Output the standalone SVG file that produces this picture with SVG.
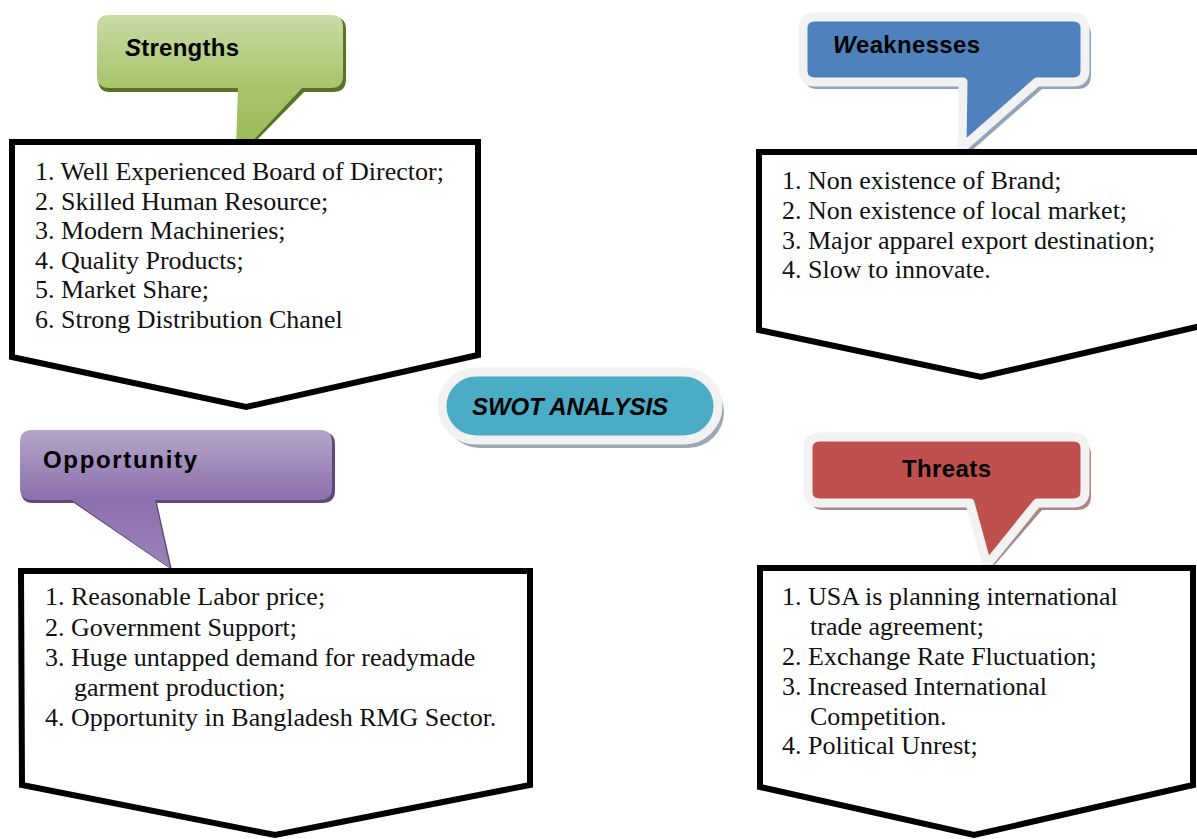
<svg xmlns="http://www.w3.org/2000/svg" width="1197" height="839" viewBox="0 0 1197 839">
<defs>
<linearGradient id="gGreen" x1="0" y1="0" x2="0" y2="1">
<stop offset="0" stop-color="#c9dca6"/>
<stop offset="0.55" stop-color="#a8c46a"/>
<stop offset="1" stop-color="#9bbb59"/>
</linearGradient>
<linearGradient id="gPurple" x1="0" y1="0" x2="0" y2="1">
<stop offset="0" stop-color="#b5a5c9"/>
<stop offset="0.5" stop-color="#8c70ad"/>
<stop offset="1" stop-color="#9a83b9"/>
</linearGradient>
<style>
.box{fill:#fff;stroke:#000;stroke-width:6;stroke-linejoin:miter}
.lst{font-family:"Liberation Serif","Times New Roman",serif;font-size:26px;fill:#111}
.hd{font-family:"Liberation Sans",Arial,sans-serif;font-size:24px;font-weight:bold;fill:#000}
.rim{stroke:#f2f2f2;stroke-width:9;stroke-linejoin:round}
</style>
</defs>

<g id="strengths">
<path d="M110,17 H333 Q346,17 346,29 V79 Q346,92 333,92 H304 L250,147 L238,147 L240,92 H110 Q98,92 98,79 V29 Q98,17 110,17 Z" fill="#5a7228"/>
<path d="M109,15 H331 Q343,15 343,27 V76 Q343,88 331,88 H302 L248,146 L236,146 L238,88 H109 Q97,88 97,76 V27 Q97,15 109,15 Z" fill="url(#gGreen)"/>
<text class="hd" x="125" y="56" textLength="114"><tspan font-style="italic">S</tspan>trengths</text>
<polygon class="box" points="12,142 478,142 478,355 246,407 12,357"/>
<text class="lst" x="35" y="180">1. Well Experienced Board of Director;</text>
<text class="lst" x="35" y="209.5">2. Skilled Human Resource;</text>
<text class="lst" x="35" y="239">3. Modern Machineries;</text>
<text class="lst" x="35" y="268.5">4. Quality Products;</text>
<text class="lst" x="35" y="298">5. Market Share;</text>
<text class="lst" x="35" y="327.5">6. Strong Distribution Chanel</text>
</g>

<g id="weaknesses">
<path d="M818,21 H1077 Q1091,21 1091,35 V75 Q1091,89 1077,89 H1042 L970,152 L966,152 L968,89 H818 Q804,89 804,75 V35 Q804,21 818,21 Z" fill="#93a3b7"/>
<path class="rim" d="M815,17 H1073 Q1085,17 1085,29 V70 Q1085,82 1073,82 H1037 L962,148 L963,82 H815 Q803,82 803,70 V29 Q803,17 815,17 Z" fill="#4f81bd"/>
<text class="hd" x="833" y="53" textLength="147"><tspan font-style="italic">W</tspan>eaknesses</text>
<polygon class="box" points="759,152 1205,152 1205,325 981,377 759,330"/>
<text class="lst" x="782" y="189">1. Non existence of Brand;</text>
<text class="lst" x="782" y="219">2. Non existence of local market;</text>
<text class="lst" x="782" y="248.5">3. Major apparel export destination;</text>
<text class="lst" x="782" y="278">4. Slow to innovate.</text>
</g>

<g id="opportunity">
<path d="M33,432 H322 Q335,432 335,444 V491 Q335,503 322,503 H157 L172,570 L74,503 H33 Q21,503 21,491 V444 Q21,432 33,432 Z" fill="#5f497a"/>
<path d="M32,430 H320 Q332,430 332,442 V488 Q332,500 320,500 H155 L170,568 L72,500 H32 Q20,500 20,488 V442 Q20,430 32,430 Z" fill="url(#gPurple)"/>
<text class="hd" x="43" y="468" font-size="25" textLength="154">Opportunity</text>
<polygon class="box" points="21,571 530,571 530,785 275,835 22,785"/>
<text class="lst" x="45" y="605">1. Reasonable Labor price;</text>
<text class="lst" x="45" y="636">2. Government Support;</text>
<text class="lst" x="45" y="666">3. Huge untapped demand for readymade</text>
<text class="lst" x="74" y="696">garment production;</text>
<text class="lst" x="45" y="726">4. Opportunity in Bangladesh RMG Sector.</text>
</g>

<g id="threats">
<path d="M823,441 H1077 Q1091,441 1091,455 V496 Q1091,510 1077,510 H1042 L992,568 L976,510 H823 Q810,510 810,496 V455 Q810,441 823,441 Z" fill="#a98886"/>
<path class="rim" d="M820,437 H1073 Q1085,437 1085,449 V491 Q1085,503 1073,503 H1037 L987,565 L970,503 H820 Q808,503 808,491 V449 Q808,437 820,437 Z" fill="#c0504d"/>
<text class="hd" x="902" y="477" textLength="89">Threats</text>
<polygon class="box" points="760,568 1193,568 1193,785 974,835 760,787"/>
<text class="lst" x="782" y="605">1. USA is planning international</text>
<text class="lst" x="810" y="635">trade agreement;</text>
<text class="lst" x="782" y="665">2. Exchange Rate Fluctuation;</text>
<text class="lst" x="782" y="695">3. Increased International</text>
<text class="lst" x="810" y="725">Competition.</text>
<text class="lst" x="782" y="754">4. Political Unrest;</text>
</g>

<g id="swot">
<rect x="444" y="376" width="280" height="72" rx="36" fill="#9aa8b2"/>
<rect class="rim" x="442" y="372" width="276" height="68" rx="34" fill="#4bacc6"/>
<text class="hd" x="472" y="415" font-style="italic" textLength="196">SWOT ANALYSIS</text>
</g>
</svg>
